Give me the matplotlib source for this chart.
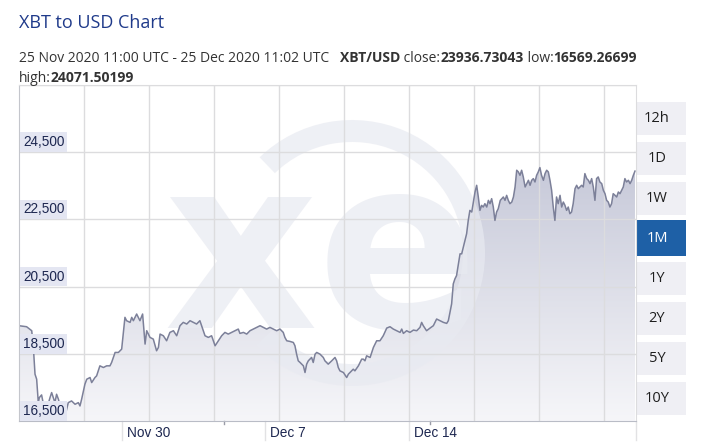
import numpy as np
import matplotlib
matplotlib.use("Agg")
import matplotlib.pyplot as plt
import matplotlib.colors as mcolors
from matplotlib.patches import Rectangle, Wedge, PathPatch
from matplotlib.path import Path

# ---- data (days since 25 Nov 2020 11:00 UTC, XBT/USD price) ----
days = [0.00, 0.37, 0.62, 0.70, 0.78, 0.86, 0.94, 0.99, 1.10, 1.19, 1.35, 1.51, 1.59, 1.67, 1.75,
        1.83, 1.92, 2.00, 2.13, 2.21, 2.40, 2.56, 2.73, 2.89, 2.97, 3.05, 3.21, 3.30, 3.46, 3.54,
        3.70, 3.78, 3.86, 3.94, 4.11, 4.27, 4.43, 4.51, 4.68, 4.84, 5.00, 5.16, 5.24, 5.41, 5.49,
        5.57, 5.73, 5.81, 5.89, 6.02, 6.14, 6.22, 6.38, 6.54, 6.70, 6.79, 6.87, 7.03, 7.19, 7.35,
        7.52, 7.68, 7.84, 8.00, 8.17, 8.33, 8.49, 8.65, 8.81, 8.98, 9.06, 9.22, 9.38, 9.55, 9.71,
        9.87, 10.03, 10.19, 10.36, 10.52, 10.68, 10.76, 10.93, 11.09, 11.25, 11.41, 11.57, 11.74,
        11.90, 12.06, 12.22, 12.39, 12.55, 12.71, 12.87, 12.95, 13.04, 13.20, 13.36, 13.44, 13.52,
        13.60, 13.69, 13.85, 13.93, 14.01, 14.09, 14.17, 14.25, 14.33, 14.42, 14.50, 14.66, 14.82,
        14.90, 15.06, 15.23, 15.39, 15.47, 15.55, 15.63, 15.80, 15.96, 16.04, 16.20, 16.28, 16.36,
        16.53, 16.61, 16.69, 16.77, 16.85, 16.93, 17.10, 17.18, 17.26, 17.42, 17.58, 17.74, 17.91,
        18.07, 18.23, 18.39, 18.56, 18.64, 18.72, 18.88, 19.04, 19.21, 19.37, 19.53, 19.61, 19.69,
        19.85, 20.02, 20.18, 20.34, 20.50, 20.67, 20.83, 20.91, 20.99, 21.07, 21.15, 21.23, 21.31,
        21.40, 21.48, 21.56, 21.64, 21.72, 21.80, 21.88, 21.96, 22.05, 22.13, 22.21, 22.29, 22.37,
        22.45, 22.53, 22.61, 22.69, 22.78, 22.86, 22.94, 23.02, 23.10, 23.18, 23.26, 23.34, 23.44,
        23.59, 23.67, 23.75, 23.83, 23.91, 24.00, 24.08, 24.16, 24.24, 24.32, 24.40, 24.48, 24.56,
        24.65, 24.73, 24.81, 24.89, 24.97, 25.05, 25.13, 25.21, 25.29, 25.37, 25.45, 25.54, 25.62,
        25.70, 25.78, 25.86, 25.94, 26.02, 26.10, 26.18, 26.26, 26.35, 26.43, 26.51, 26.59, 26.67,
        26.75, 26.83, 26.91, 26.99, 27.08, 27.16, 27.24, 27.32, 27.40, 27.48, 27.56, 27.65, 27.73,
        27.81, 27.89, 27.97, 28.05, 28.13, 28.21, 28.29, 28.38, 28.46, 28.54, 28.62, 28.70, 28.78,
        28.86, 28.94, 29.03, 29.11, 29.19, 29.27, 29.35, 29.43, 29.51, 29.59, 29.68, 29.76, 29.84,
        29.92, 30.00]
prices = [19336, 19306, 19187, 18689, 17893, 17744, 17047, 17197, 17276, 16998, 16848, 17197, 17346,
          17197, 17047, 17296, 17147, 16948, 16629, 16570, 17047, 17097, 16998, 17047, 16948, 17147,
          17595, 17744, 17794, 17644, 17794, 17843, 17993, 18142, 18092, 18142, 18142, 18241, 18540,
          18540, 18639, 19585, 19485, 19435, 19585, 19485, 19684, 19585, 19485, 19684, 18789, 19187,
          18988, 18938, 18590, 18689, 19087, 19037, 18888, 19137, 19187, 19037, 19336, 19435, 19386,
          19485, 19435, 19386, 19485, 19187, 19037, 18988, 19037, 18739, 18888, 19037, 19137, 19087,
          19137, 19187, 19236, 19107, 19137, 19087, 19187, 19236, 19286, 19336, 19286, 19236, 19286,
          19236, 19187, 19236, 19137, 18988, 18888, 18868, 18838, 18739, 18490, 18291, 18241, 18142,
          17943, 18192, 18291, 18341, 18391, 18241, 18490, 18540, 18490, 18391, 18291, 18192, 18291,
          18391, 18291, 18092, 17993, 17943, 17794, 17893, 17993, 18042, 17993, 18142, 18241, 18341,
          18341, 18291, 18440, 18391, 18540, 18689, 18888, 18888, 19037, 19266, 19306, 19236, 19187,
          19137, 19236, 19107, 19187, 19137, 19206, 19187, 19286, 19435, 19336, 19187, 19266, 19336,
          19535, 19485, 19435, 19405, 19485, 19734, 19983, 20580, 20729, 20828, 21177, 21475, 21475,
          21674, 21873, 22072, 22470, 22769, 22719, 23017, 23316, 23515, 23167, 22769, 22918, 22868,
          22968, 22868, 23067, 22968, 23117, 22868, 22470, 22719, 22818, 23067, 23167, 23067, 23216,
          23067, 22968, 23017, 23167, 23465, 23963, 23913, 23813, 23963, 23764, 23465, 23565, 23664,
          23515, 23664, 23714, 23614, 23813, 23913, 24042, 23813, 23664, 23863, 23963, 23913, 23664,
          23366, 22868, 22470, 23167, 22968, 23216, 22868, 23017, 22918, 22769, 22868, 22669, 22719,
          22968, 23415, 23515, 23415, 23465, 23515, 23465, 23863, 23714, 23664, 23565, 23714, 23465,
          23067, 23714, 23764, 23614, 23565, 23366, 23266, 23067, 23017, 22868, 22968, 23266, 23216,
          23167, 23316, 23266, 23366, 23465, 23714, 23614, 23664, 23565, 23664, 23813, 23937]

y_ticks = [16500, 18500, 20500, 22500, 24500]
y_labels = ["16,500", "18,500", "20,500", "22,500", "24,500"]
date_pos = [5.0, 12.0, 19.0]
date_labels = ["Nov 30", "Dec 7", "Dec 14"]
buttons = ["12h", "1D", "1W", "1M", "1Y", "2Y", "5Y", "10Y"]
selected = "1M"

W, H = 707, 447
fig = plt.figure(figsize=(W / 100, H / 100), dpi=100)
fig.patch.set_facecolor("white")

# background layer in pixel coords (buttons, and transform for the watermark)
bg = fig.add_axes([0, 0, 1, 1], zorder=0)
bg.set_xlim(0, W)
bg.set_ylim(H, 0)
bg.axis("off")

# buttons
for i, b in enumerate(buttons):
    top = 102 + 40 * i
    h = 33
    fc, tc = "#efeff4", "#1e1e1e"
    if b == selected:
        top, h = 220, 36
        fc, tc = "#1e60a6", "white"
    bg.add_patch(Rectangle((636, top), 50, h, facecolor=fc, edgecolor="none"))
    bg.text(657, top + h / 2, b, ha="center", va="center", fontsize=10.5, color=tc,
            family="Open Sans")

# main plot
L, R, T, B = 19, 636, 85, 421
ax = fig.add_axes([L / W, 1 - B / H, (R - L) / W, (B - T) / H], zorder=1)
ax.patch.set_alpha(0)
xmax = 30.05
ax.set_xlim(0, xmax)
ax.set_ylim(16500, 26500)

for v in np.arange(1, 10) * 65 / 20.533:
    ax.axvline(v, color="#dcdcde", lw=1, zorder=1.7)
for v in y_ticks[1:] + [26500]:
    ax.axhline(v, color="#dcdcde", lw=1, zorder=1.7)

# gradient area
grad = np.linspace(0, 1, 256).reshape(-1, 1)
cmap = mcolors.LinearSegmentedColormap.from_list("g", ["#f6f6f9", "#b8bbcf"])
im = ax.imshow(grad, extent=[0, xmax, 16500, 26500], origin="lower", aspect="auto",
               cmap=cmap, zorder=1, interpolation="bilinear")
verts = [(days[0], 16500)] + list(zip(days, prices)) + [(days[-1], 16500)]
clip = PathPatch(Path(verts), transform=ax.transData, facecolor="none", edgecolor="none")
ax.add_patch(clip)
im.set_clip_path(clip)

# xe watermark, semi-transparent, above the area fill but below the grid
wm = (0.91, 0.918, 0.945)
ax.add_patch(Wedge((352, 253), 133, -134, 136, width=22, facecolor=wm, alpha=0.7, lw=0,
                   transform=bg.transData, zorder=1.5))
ax.text(163, 328, "xe", fontsize=172, fontweight="bold", color=wm, alpha=0.7,
        family="DejaVu Sans", ha="left", va="baseline", transform=bg.transData, zorder=1.5)

ax.plot(days, prices, color="#7c8099", lw=1.1, zorder=2)

for s in ["top", "right"]:
    ax.spines[s].set_color("#dcdcde")
ax.spines["left"].set_color("#c4c6cc")
ax.spines["bottom"].set_color("#b9bcc6")
ax.set_xticks([])
ax.set_yticks([])

# y labels
for v, lab in zip(y_ticks, y_labels):
    ax.annotate(lab, xy=(0, v), xycoords=("axes fraction", "data"), xytext=(4, 3),
                textcoords="offset pixels", ha="left", va="bottom", fontsize=9.8,
                family="Liberation Sans", color="#1d2750",
                bbox=dict(boxstyle="square,pad=0.2", fc="#e4e6f2", ec="none"), zorder=5)

# x labels
xt = ax.get_xaxis_transform()
for d, lab in zip(date_pos, date_labels):
    ax.plot([d, d], [0, -19 / 336], transform=xt, color="#e2e2e4", lw=1, clip_on=False)
    ax.annotate(lab, xy=(d, 0), xycoords=xt, xytext=(5, -5), textcoords="offset pixels",
                ha="left", va="top", fontsize=9.8, family="Liberation Sans", color="#1d2750")
ax.plot([xmax, xmax], [0, -19 / 336], transform=xt, color="#e2e2e4", lw=1, clip_on=False)
for d in [10, 20]:
    ax.plot([d, d], [0, -3 / 336], transform=xt, color="#9a9ca8", lw=1, clip_on=False)

# header texts
fig.text(19 / W, 1 - 28 / H, "XBT to USD Chart", fontsize=13, color="#1f3a8a",
         family="Open Sans", va="baseline")

renderer = fig.canvas.get_renderer()


def run_text(x, y, parts):
    for s, bold in parts:
        t = fig.text(x / W, 1 - y / H, s, fontsize=10, color="#333333", family="Open Sans",
                     fontweight="bold" if bold else "normal", va="baseline")
        x += t.get_window_extent(renderer).width


run_text(19, 62, [("25 Nov 2020 11:00 UTC - 25 Dec 2020 11:02 UTC   ", False),
                  ("XBT/USD", True), (" close:", False), ("23936.73043", True),
                  (" low:", False), ("16569.26699", True)])
run_text(19, 82, [("high:", False), ("24071.50199", True)])

fig.savefig("out.png", dpi=100)
